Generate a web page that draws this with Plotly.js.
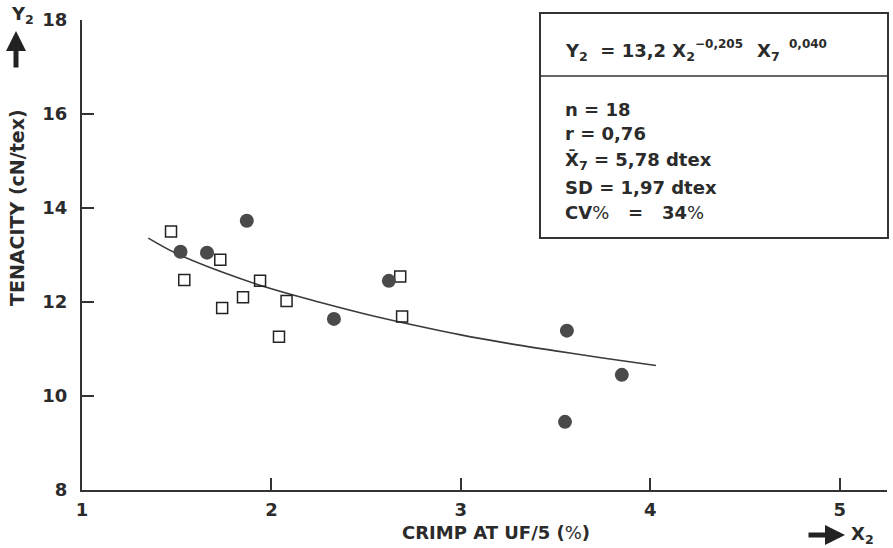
<!DOCTYPE html>
<html>
<head>
<meta charset="utf-8">
<script src="https://cdn.plot.ly/plotly-3.0.1.min.js"></script>
<style>html,body{margin:0;padding:0;background:#fff;}#chart{width:893px;height:548px;}</style>
</head>
<body>
<div id="chart"></div>
<script>
// Filled circles (series 1)
const circleX = [1.52, 1.66, 1.87, 2.33, 2.62, 3.55, 3.56, 3.85];
const circleY = [13.07, 13.05, 13.73, 11.64, 12.45, 9.45, 11.39, 10.45];
// Open squares (series 2)
const squareX = [1.47, 1.54, 1.73, 1.74, 1.85, 1.94, 2.04, 2.08, 2.68, 2.69];
const squareY = [13.50, 12.47, 12.90, 11.87, 12.10, 12.45, 11.26, 12.02, 12.54, 11.69];
// Fitted curve
const curveX = [1.35, 1.5, 1.75, 2.0, 2.25, 2.5, 2.75, 3.0, 3.25, 3.5, 3.75, 4.03];
const curveY = [13.36, 13.03, 12.62, 12.28, 12.0, 11.74, 11.51, 11.30, 11.12, 10.96, 10.81, 10.65];
// Ticks
const xTicks = [1, 2, 3, 4, 5];
const yTicks = [8, 10, 12, 14, 16, 18];
// Texts
const xTitle = "CRIMP AT UF/5 (<span style='font-weight:normal'>%</span>)";
const yTitle = "TENACITY (cN/tex)";
const statLines = [
  "n = 18",
  "r = 0,76",
  "X\u0304<sub>7</sub> = 5,78 dtex",
  "SD = 1,97 dtex",
  "CV<span style='font-weight:normal'>%</span>\u00a0\u00a0 =\u00a0\u00a0 34<span style='font-weight:normal'>%</span>"
];

const FONT = "DejaVu Sans, Liberation Sans, Arial, sans-serif";
const INK = "#2b2b2b";

// pixel -> paper helpers (plot area: left 82, top 20, width 805, height 470)
const L = 82, T = 20, W = 805, H = 470;
const px = v => (v - L) / W;
const py = v => (T + H - v) / H;

const traces = [
  {x: curveX, y: curveY, mode: "lines", line: {color: "#3a3a3a", width: 1.6, shape: "spline"}, hoverinfo: "skip", showlegend: false},
  {x: squareX, y: squareY, mode: "markers", marker: {symbol: "square-open", size: 11, color: "#222", line: {width: 1.5, color: "#222"}}, showlegend: false},
  {x: circleX, y: circleY, mode: "markers", marker: {symbol: "circle", size: 14, color: "#4a4a4a", line: {width: 0}}, showlegend: false}
];

const anns = [];
const txt = (x, y, text, size, opts) => Object.assign({
  xref: "paper", yref: "paper", x: px(x), y: py(y), text: text, showarrow: false,
  xanchor: "left", yanchor: "middle",
  font: {family: FONT, size: size, color: INK, weight: "bold"}
}, opts || {});

// axis titles
anns.push(txt(496, 532, xTitle, 18, {xanchor: "center"}));
anns.push(txt(17, 208, yTitle, 19, {xanchor: "center", textangle: -90}));
// Y2 and X2 labels
anns.push(txt(9, 15, "Y<sub>2</sub>", 18));
anns.push(txt(849, 535, "X<sub>2</sub>", 18));
// arrows
anns.push({xref: "paper", yref: "paper", x: px(16), y: py(31), ax: 0, ay: 38, text: "", showarrow: true,
  arrowhead: 2, arrowsize: 0.8, arrowwidth: 5, arrowcolor: "#222", standoff: 0});
anns.push({xref: "paper", yref: "paper", x: px(845), y: py(535), ax: -38, ay: 0, text: "", showarrow: true,
  arrowhead: 2, arrowsize: 0.8, arrowwidth: 5, arrowcolor: "#222", standoff: 0});
// equation
anns.push(txt(563, 52, "Y<sub>2</sub> \u00a0= 13,2 X<sub>2</sub>", 18));
anns.push(txt(693, 44, "\u22120,205", 12));
anns.push(txt(755, 52, "X<sub>7</sub>", 18));
anns.push(txt(787, 44, "0,040", 12));
// stats
const statY = [109, 133, 161, 188, 212];
statLines.forEach((s, i) => anns.push(txt(563, statY[i], s, 18)));

const shapes = [
  {type: "rect", xref: "paper", yref: "paper", x0: px(540), x1: px(888), y0: py(238), y1: py(13),
   line: {color: "#333", width: 2}, fillcolor: "rgba(0,0,0,0)"},
  {type: "line", xref: "paper", yref: "paper", x0: px(540), x1: px(888), y0: py(76), y1: py(76),
   line: {color: "#333", width: 1.5}}
];

const layout = {
  width: 893, height: 548,
  margin: {l: L, r: 893 - L - W, t: T, b: 548 - T - H},
  paper_bgcolor: "#fff", plot_bgcolor: "#fff",
  showlegend: false,
  xaxis: {range: [1, 5.25], tickvals: xTicks, ticktext: xTicks.map(String), ticks: "inside", ticklen: 12, tickwidth: 2,
    tickcolor: "#333", showline: true, linecolor: "#333", linewidth: 2, showgrid: false, zeroline: false,
    tickfont: {family: FONT, size: 18, color: INK, weight: "bold"}, ticklabelstandoff: 2},
  yaxis: {range: [8, 18], tickvals: yTicks, ticktext: yTicks.map(String), ticks: "inside", ticklen: 12, tickwidth: 2,
    tickcolor: "#333", showline: true, linecolor: "#333", linewidth: 2, showgrid: false, zeroline: false,
    tickfont: {family: FONT, size: 18, color: INK, weight: "bold"}, ticklabelstandoff: 9},
  annotations: anns,
  shapes: shapes
};

Plotly.newPlot("chart", traces, layout, {displayModeBar: false, staticPlot: true});
</script>
</body>
</html>
